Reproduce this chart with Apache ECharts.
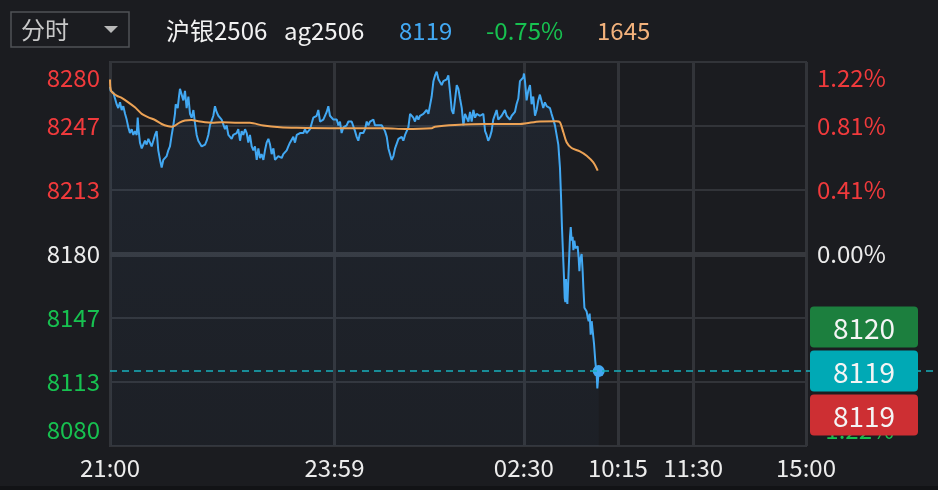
<!DOCTYPE html>
<html><head><meta charset="utf-8">
<script src="https://cdn.jsdelivr.net/npm/echarts@6/dist/echarts.min.js"></script>
<style>
html,body{margin:0;padding:0;background:#121316;}
#c{width:938px;height:486px;}
</style></head><body><div id="c"></div>
<script>
// ---- data ----
const headerName = '沪银2506';
const headerCode = 'ag2506';
const headerPrice = '8119';
const headerChange = '-0.75%';
const headerVolume = '1645';
const periodLabel = '分时';

const sessionTicks = [0, 179, 330, 405, 465, 555];
const sessionLabels = ['21:00', '23:59', '02:30', '10:15', '11:30', '15:00'];

const basePrice = 8180;
const priceRange = 100;
const priceTickLabels = ['8080', '8113', '8147', '8180', '8213', '8247', '8280'];
const pctTickLabels = ['-1.22%', '-0.81%', '-0.41%', '0.00%', '0.41%', '0.81%', '1.22%'];

const tagValues = ['8120', '8119', '8119'];

const priceMinutes = [0,0.5,2.7,4.0,5.3,6.6,8.0,9.3,10.6,12.0,13.3,14.6,15.9,17.3,18.6,19.9,21.3,22.1,22.6,23.9,25.3,26.6,27.9,29.2,30.6,31.9,33.2,34.6,35.9,37.2,38.5,39.9,41.2,42.5,43.9,45.2,46.5,47.8,49.2,50.5,51.8,52.4,54.0,55.0,55.8,57.1,58.5,59.8,61.1,62.5,63.8,65.1,66.5,67.8,69.1,70.4,71.8,73.1,74.4,75.8,77.1,78.4,79.7,81.1,82.4,83.7,85.0,86.4,87.7,89.0,90.4,91.7,93.0,94.4,95.7,97.0,98.3,99.7,
101.0,102.3,103.7,105.0,106.3,107.7,109.0,110.3,111.6,113.0,114.3,115.6,117.0,118.3,119.6,120.9,122.3,123.6,124.9,126.3,127.6,128.9,130.3,131.6,132.9,134.2,135.6,136.9,138.2,139.6,140.9,142.2,143.5,144.9,146.2,147.5,148.9,150.2,151.5,152.8,154.2,155.5,156.8,158.2,159.5,160.8,162.1,163.5,164.8,166.1,167.5,168.8,170.1,171.5,172.8,174.1,175.4,176.8,178.1,179.4,180.8,182.1,183.4,184.7,186.1,187.4,188.7,190.1,191.4,192.7,194.0,195.4,196.7,198.0,
199.4,200.7,202.0,203.4,204.7,206.0,207.4,208.7,210.0,211.3,212.7,214.0,215.3,216.7,218.0,219.3,220.7,222.0,223.3,224.6,226.0,227.3,228.6,230.0,231.3,232.6,233.9,235.3,236.6,237.9,239.3,240.6,241.9,243.2,244.6,245.9,247.2,248.6,249.9,251.2,252.5,253.9,255.2,256.5,257.9,259.2,260.5,261.9,263.2,264.5,265.8,267.2,268.5,269.8,271.2,272.5,273.8,275.1,276.5,277.8,279.1,280.5,281.8,283.1,284.4,285.8,287.1,288.4,289.8,291.1,292.4,293.7,295.1,296.4,297.7,299.1,
300.3,301.6,303.0,304.3,305.6,307.0,308.3,309.6,310.9,312.3,313.6,314.9,316.3,317.6,318.9,320.3,321.6,322.9,324.2,325.6,326.9,328.2,329.6,330.1,330.9,332.2,333.5,334.9,336.2,337.5,338.9,340.2,341.5,342.8,344.2,345.5,346.8,348.2,349.5,350.8,352.1,353.5,354.8,356.1,357.5,358.8,
359.6,360.4,361.5,362.0,362.6,363.1,363.6,364.2,364.7,365.2,366.0,366.8,367.4,368.1,368.9,369.5,370.3,371.1,372.1,372.9,373.7,374.3,374.8,375.3,376.1,376.9,377.5,378.3,379.0,380.1,380.9,381.7,382.5,383.3,384.1,384.9,386.0,387.0,388.1,388.6,389.7];

const prices = [8267,8265,8264,8263,8258,8256,8259,8255,8257,8253,8250,8246,8243,8245,8242,8244,8242,8251,8246,8238,8235,8236,8239,8237,8240,8238,8236,8235,8242,8244,8234,8229,8225,8229,8229,8231,8234,8236,8242,8247,8253,8258,8256,8262,8266,8267,8260,8265,8256,8262,8253,8251,8255,8248,8242,8239,8240,8236,8236,8237,8239,8242,8247,8246,8252,8257,8254,8252,8251,8250,8249,8245,8247,8242,8243,8240,8242,8242,
8243,8245,8239,8244,8242,8245,8243,8238,8242,8236,8234,8236,8229,8235,8230,8232,8229,8234,8238,8240,8237,8232,8235,8229,8228,8231,8230,8230,8232,8233,8234,8236,8238,8239,8241,8238,8242,8241,8243,8244,8243,8245,8243,8244,8245,8244,8251,8250,8252,8255,8249,8248,8250,8251,8254,8257,8252,8251,8250,8249,8250,8247,8249,8243,8246,8245,8247,8249,8250,8249,8248,8244,8241,8239,
8243,8244,8243,8245,8249,8247,8249,8248,8250,8247,8248,8247,8248,8247,8246,8244,8241,8235,8234,8229,8231,8235,8236,8240,8239,8241,8239,8242,8243,8246,8253,8254,8251,8249,8252,8250,8252,8251,8253,8253,8255,8253,8254,8262,8270,8273,8275,8271,8272,8268,8270,8269,8271,8273,8264,8255,8253,8253,8268,8266,8261,8256,8247,8253,8251,8249,8254,8249,8255,8251,8253,8252,8252,8253,8253,8244,
8242,8239,8241,8244,8250,8251,8255,8250,8249,8252,8253,8255,8252,8251,8250,8252,8253,8254,8258,8261,8270,8271,8272,8274,8270,8260,8265,8268,8258,8262,8252,8255,8260,8263,8262,8256,8259,8257,8258,8256,8253,8250,8247,8246,8237,8225,
8211,8194,8176,8168,8157,8155,8167,8159,8154,8162,8176,8189,8194,8187,8189,8182,8187,8183,8182,8184,8178,8171,8176,8178,8180,8171,8162,8152,8151,8150,8147,8145,8149,8138,8145,8140,8133,8124,8117,8110,8119];

const avgMinutes = [0,0.8,5.3,9.3,14.6,19.9,25.3,30.6,35.9,41.2,46.5,49.2,51.8,55.8,59.8,65.1,70.4,75.8,81.1,89.0,99.7,111.6,122.3,135.6,148.9,175.4,199.4,219.3,235.3,256.5,259.2,275.1,299.1,311.0,327.0,332.2,342.8,356.1,358.8,361.5,364.1,368.1,374.7,380.1,385.4,388.9];
const avgPrices = [8270.9,8265.1,8262.5,8261.3,8259.0,8256.4,8253.0,8251.2,8249.8,8247.7,8246.5,8246.3,8246.9,8248.6,8249.5,8249.8,8249.1,8248.6,8248.4,8248.6,8248.4,8248.3,8246.9,8246.0,8245.7,8245.5,8245.5,8245.5,8245.1,8245.5,8246.3,8247.2,8247.7,8247.7,8247.7,8248.1,8249.0,8249.1,8248.6,8243.4,8238.2,8235.2,8233.5,8231.2,8227.7,8223.4];

// ---- chart ----
const FONT = '"Noto Sans CJK SC", "Noto Sans", sans-serif';
const RED = '#f03a3c', GREEN = '#17c150', WHITE = '#ececec';
const BLUE = '#42a8f2', ORANGE = '#eca255';
const FS = 24;

const yTicks = [];
for (let k = -3; k <= 3; k++) yTicks.push(basePrice + priceRange * k / 3);
const yMin = basePrice - priceRange, yMax = basePrice + priceRange;
function tickIndex(v) { return Math.round((v - yMin) / (priceRange / 3)); }
function tickColor(v) { return v > basePrice + 0.01 ? RED : (v < basePrice - 0.01 ? GREEN : WHITE); }
function yLabel(labels) {
  return v => {
    const i = tickIndex(v);
    if (i === 6) return '{t|' + labels[i] + '}';
    if (i === 0) return '{b|' + labels[i] + '}';
    return labels[i];
  };
}
const yRich = {
  t: { color: RED, fontSize: FS, fontFamily: FONT, padding: [4, 0, 0, 0] },
  b: { color: GREEN, fontSize: FS, fontFamily: FONT, padding: [0, 0, 4, 0] }
};

const priceData = priceMinutes.map((m, i) => [m, prices[i]]);
const avgData = avgMinutes.map((m, i) => [m, avgPrices[i]]);
const lastIdx = prices.length - 1;

const chart = echarts.init(document.getElementById('c'));
const option = {
  backgroundColor: '#1b1c20',
  animation: false,
  textStyle: { fontFamily: FONT },
  grid: { left: 110, right: 132, top: 62, bottom: 40, show: true, borderColor: '#34363b', borderWidth: 2, backgroundColor: 'transparent' },
  xAxis: {
    type: 'value', min: 0, max: 555,
    axisLine: { show: false },
    axisTick: { show: false, customValues: sessionTicks },
    axisLabel: { customValues: sessionTicks, color: WHITE, fontSize: FS, fontFamily: FONT, margin: 10,
      formatter: v => sessionLabels[sessionTicks.indexOf(v)] },
    splitLine: { show: true, lineStyle: { color: '#323439', width: 3 } }
  },
  yAxis: [{
    type: 'value', min: yMin, max: yMax, position: 'left',
    axisLine: { show: false },
    axisTick: { show: false, customValues: yTicks },
    axisLabel: { customValues: yTicks, fontSize: FS, fontFamily: FONT, margin: 10,
      verticalAlignMaxLabel: 'top', verticalAlignMinLabel: 'bottom', rich: yRich,
      color: v => tickColor(v), formatter: yLabel(priceTickLabels) },
    splitLine: { show: true, lineStyle: { color: '#323439', width: 2 } }
  }, {
    type: 'value', min: yMin, max: yMax, position: 'right',
    axisLine: { show: false },
    axisTick: { show: false, customValues: yTicks },
    axisLabel: { customValues: yTicks, fontSize: FS, fontFamily: FONT, margin: 11,
      verticalAlignMaxLabel: 'top', verticalAlignMinLabel: 'bottom', rich: yRich,
      color: v => tickColor(v), formatter: yLabel(pctTickLabels) },
    splitLine: { show: false }
  }],
  series: [{
    type: 'line', data: priceData, showSymbol: false, z: 3,
    lineStyle: { color: BLUE, width: 2 }, itemStyle: { color: BLUE },
    areaStyle: { origin: 'start', color: new echarts.graphic.LinearGradient(0, 0, 0, 1, [
      { offset: 0, color: 'rgba(80,140,210,0.11)' }, { offset: 1, color: 'rgba(80,140,210,0.05)' }]) },
    markLine: { silent: true, symbol: 'none', z: 1, label: { show: false },
      lineStyle: { color: '#36383d', width: 5, type: 'solid' }, data: [{ yAxis: basePrice }] },
    markPoint: { symbol: 'circle', symbolSize: 12, itemStyle: { color: BLUE }, label: { show: false },
      data: [{ coord: [priceMinutes[lastIdx], prices[lastIdx]] }] }
  }, {
    type: 'line', data: avgData, showSymbol: false, smooth: 0.3, z: 4,
    lineStyle: { color: ORANGE, width: 2 }, itemStyle: { color: ORANGE }
  }]
};
chart.setOption(option);

const pt = chart.convertToPixel({ gridIndex: 0 }, [priceMinutes[lastIdx], prices[lastIdx]]);
const gRect = chart.getModel().getComponent('grid', 0).coordinateSystem.getRect();
const W = chart.getWidth();
const tagColors = ['#1c7f3e', '#00a9b5', '#cd2f33'];
const HF = FS + 'px ' + FONT;
const graphics = [
  { type: 'rect', z: 50, shape: { x: 11, y: 12, width: 118, height: 35 }, style: { fill: 'none', stroke: '#505256', lineWidth: 1.5 } },
  { type: 'text', z: 50, style: { x: 21, y: 30, text: periodLabel, fill: '#c8c8c8', font: HF, textVerticalAlign: 'middle' } },
  { type: 'polygon', z: 50, shape: { points: [[104, 26], [118, 26], [111, 33]] }, style: { fill: '#b8b8b8' } },
  { type: 'text', z: 50, style: { x: 166, y: 31, text: headerName, fill: '#f2f2f2', font: HF, textVerticalAlign: 'middle' } },
  { type: 'text', z: 50, style: { x: 284, y: 31, text: headerCode, fill: '#f2f2f2', font: HF, textVerticalAlign: 'middle' } },
  { type: 'text', z: 50, style: { x: 399, y: 31, text: headerPrice, fill: BLUE, font: HF, textVerticalAlign: 'middle' } },
  { type: 'text', z: 50, style: { x: 486, y: 31, text: headerChange, fill: GREEN, font: HF, textVerticalAlign: 'middle' } },
  { type: 'text', z: 50, style: { x: 597, y: 31, text: headerVolume, fill: '#f3b27c', font: HF, textVerticalAlign: 'middle' } },
  { type: 'line', z: 40, shape: { x1: gRect.x, y1: pt[1], x2: W, y2: pt[1] }, style: { stroke: '#17b0bd', lineWidth: 1.5, lineDash: [7, 5] } }
];
tagValues.forEach((t, i) => {
  const cy = pt[1] + (i - 1) * 44;
  graphics.push({ type: 'rect', z: 60, shape: { x: gRect.x + gRect.width + 4, y: cy - 20.5, width: 108, height: 41, r: 4 }, style: { fill: tagColors[i] } });
  graphics.push({ type: 'text', z: 61, style: { x: gRect.x + gRect.width + 58, y: cy + 1, text: t, fill: '#f4f4f4', font: '28px ' + FONT, textAlign: 'center', textVerticalAlign: 'middle' } });
});
chart.setOption({ graphic: graphics });
</script></body></html>
